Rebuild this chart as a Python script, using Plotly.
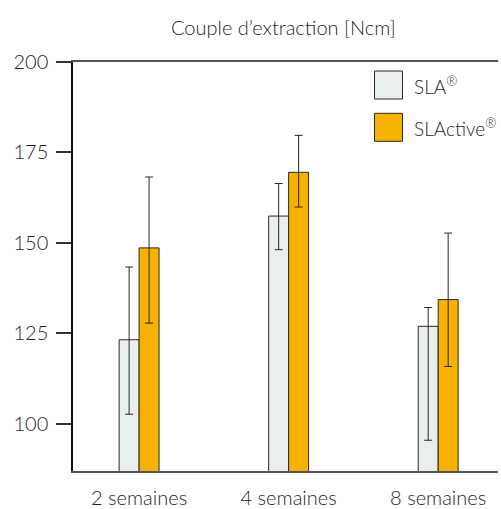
import plotly.graph_objects as go

categories = ["2 semaines", "4 semaines", "8 semaines"]
sla_values = [123.2, 157.4, 126.9]
sla_err_plus = [20.1, 9.0, 5.2]
sla_err_minus = [20.6, 9.3, 31.5]
slactive_values = [148.6, 169.5, 134.3]
slactive_err_plus = [19.6, 10.2, 18.4]
slactive_err_minus = [20.8, 9.6, 18.5]
series_names = ["SLA<sup>®</sup>", "SLActive<sup>®</sup>"]
y_ticks = [100, 125, 150, 175, 200]

SLA_COLOR = "#E9EFEE"
ACT_COLOR = "#F7B100"
LINE = "#2a2a2a"
TEXT = "#1f1f1f"
FONT = "Lato"
WEIGHT = 300

W, H = 501, 509
ML, MR, MT, MB = 73, 3, 62, 38

fig = go.Figure()
err_style = dict(type="data", symmetric=False, color=LINE, thickness=1, width=4)
fig.add_trace(go.Bar(
    x=categories, y=sla_values, name=series_names[0],
    marker=dict(color=SLA_COLOR, line=dict(color=LINE, width=1)),
    error_y=dict(array=sla_err_plus, arrayminus=sla_err_minus, **err_style),
    showlegend=False,
))
fig.add_trace(go.Bar(
    x=categories, y=slactive_values, name=series_names[1],
    marker=dict(color=ACT_COLOR, line=dict(color=LINE, width=1)),
    error_y=dict(array=slactive_err_plus, arrayminus=slactive_err_minus, **err_style),
    showlegend=False,
))

def px_x(p):
    return (p - ML) / (W - ML - MR)

def px_y(p):
    return 1 - (p - MT) / (H - MT - MB)

# legend drawn as large boxes + labels
shapes = []
annotations = []
for i, (col, name) in enumerate(zip([SLA_COLOR, ACT_COLOR], series_names)):
    top = 71 + i * 42.3
    shapes.append(dict(type="rect", xref="paper", yref="paper",
                       x0=px_x(374.5), x1=px_x(402.5), y0=px_y(top + 28), y1=px_y(top),
                       fillcolor=col, line=dict(color=LINE, width=1)))
    annotations.append(dict(xref="paper", yref="paper", x=px_x(412), y=px_y(top + 14),
                            text=name, showarrow=False, xanchor="left", yanchor="middle",
                            font=dict(family=FONT, size=19, color=TEXT, weight=WEIGHT)))

annotations.append(dict(xref="paper", yref="paper", x=px_x(283), y=px_y(27),
                        text="Couple d’extraction [Ncm]", showarrow=False,
                        xanchor="center", yanchor="middle",
                        font=dict(family=FONT, size=20, color=TEXT, weight=WEIGHT)))

fig.update_layout(
    width=W, height=H,
    margin=dict(l=ML, r=MR, t=MT, b=MB, autoexpand=False),
    paper_bgcolor="white", plot_bgcolor="white",
    barmode="group", bargap=0.733, bargroupgap=0,
    shapes=shapes, annotations=annotations,
    font=dict(family=FONT, color=TEXT, weight=WEIGHT),
    xaxis=dict(range=[-0.442, 2.40], showline=True, linecolor="#555", linewidth=1.5,
               mirror=True, ticks="outside", ticklen=8, tickcolor="rgba(0,0,0,0)",
               tickfont=dict(family=FONT, size=20, color=TEXT, weight=WEIGHT), showgrid=False,
               zeroline=False, fixedrange=True, automargin=False),
    yaxis=dict(range=[86.9, 200], tickvals=y_ticks, showline=True, linecolor="#111",
               linewidth=1.5, ticks="outside", ticklen=15, tickcolor="#333", tickwidth=1.5,
               tickfont=dict(family=FONT, size=20, color=TEXT, weight=WEIGHT), showgrid=False,
               zeroline=False, ticklabelstandoff=4, automargin=False),
)

fig.write_html("out.html")
